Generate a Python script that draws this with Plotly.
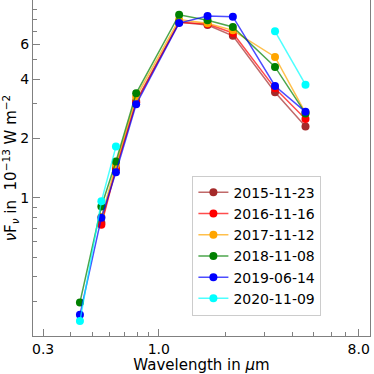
import numpy as np
import plotly.graph_objects as go

# wavelengths of the photometric bands (B V R I J H K W1 W2), in micron
wavelength = [0.44, 0.55, 0.64, 0.79, 1.235, 1.66, 2.16, 3.35, 4.6]

# nu F_nu in 1e-13 W m^-2 ; None where a band was not observed
flux_2015 = [None, 0.75, 1.42, 3.10, 7.75, 7.52, 6.63, 3.43, 2.30]
flux_2016 = [None, 0.732, 1.40, 3.05, 7.75, 7.60, 6.85, 3.59, 2.51]
flux_2017 = [None, 0.80, 1.47, 3.25, 8.00, 7.67, 7.06, 5.18, 2.70]
flux_2018 = [0.296, 0.905, 1.53, 3.39, 8.47, 7.94, 7.34, 4.61, 2.68]
flux_2019 = [0.256, 0.795, 1.35, 2.98, 7.69, 8.35, 8.28, 3.69, 2.73]
flux_2020 = [0.238, 0.962, 1.82, None, None, None, None, 6.98, 3.75]

epochs = ["2015-11-23", "2016-11-16", "2017-11-12", "2018-11-08", "2019-06-14", "2020-11-09"]
colors = ["#a52a2a", "#ff0000", "#ffa500", "#008000", "#0000ff", "#00ffff"]
fluxes = [flux_2015, flux_2016, flux_2017, flux_2018, flux_2019, flux_2020]

x_ticks = [0.3, 1.0, 8.0]
x_minor = [0.4, 0.5, 0.6, 0.7, 0.8, 0.9, 2, 3, 4, 5, 6, 7, 9]
y_ticks = [1, 2, 4, 6]
y_minor = [0.3, 0.4, 0.5, 0.6, 0.7, 0.8, 0.9, 3, 5, 7, 8, 9]


def rgba(hex_color, alpha):
    h = hex_color.lstrip("#")
    r, g, b = int(h[0:2], 16), int(h[2:4], 16), int(h[4:6], 16)
    return f"rgba({r},{g},{b},{alpha})"


fig = go.Figure()
for label, col, flux in zip(epochs, colors, fluxes):
    fig.add_trace(go.Scatter(
        x=wavelength, y=flux, name=label,
        mode="lines+markers",
        line=dict(color=rgba(col, 0.7), width=1.5),
        marker=dict(color=col, size=8),
    ))

axis_col = "#808080"
fig.update_layout(
    width=374, height=374,
    margin=dict(l=33, r=4, t=0, b=38, autoexpand=False),
    paper_bgcolor="white", plot_bgcolor="white",
    font=dict(family="DejaVu Sans", size=14, color="black"),
    showlegend=True,
    legend=dict(
        x=0.473, y=0.477, xanchor="left", yanchor="top",
        bordercolor="#cccccc", borderwidth=1, bgcolor="white",
        font=dict(size=14),
    ),
)
fig.update_xaxes(
    type="log", range=[np.log10(0.27), np.log10(9.0)],
    tickvals=x_ticks, ticktext=["0.3", "1.0", "8.0"],
    ticks="inside", ticklen=7, tickcolor=axis_col, ticklabelstandoff=0,
    minor=dict(tickvals=x_minor, ticks="inside", ticklen=4, tickcolor=axis_col),
    showline=True, linecolor=axis_col, linewidth=1, mirror=True,
    showgrid=False, zeroline=False, automargin=False,
    title=dict(text="Wavelength in <i>μ</i>m", font=dict(size=15)),
)
fig.update_yaxes(
    type="log", range=[np.log10(0.2), np.log10(10.06)],
    tickvals=y_ticks, ticktext=[str(v) for v in y_ticks],
    ticks="inside", ticklen=7, tickcolor=axis_col, ticklabelstandoff=0,
    minor=dict(tickvals=y_minor, ticks="inside", ticklen=4, tickcolor=axis_col),
    showline=True, linecolor=axis_col, linewidth=1, mirror=True,
    showgrid=False, zeroline=False, automargin=False,
    title=dict(text="<i>ν</i>F<sub><i>ν</i></sub> in  10<sup>−13</sup> W m<sup>−2</sup>",
               font=dict(size=15)),
)

# page body has a default 8px margin; drop it so the figure fills the window
fig.write_html("out.html", config={"displayModeBar": False},
               post_script="document.body.style.margin='0';")
